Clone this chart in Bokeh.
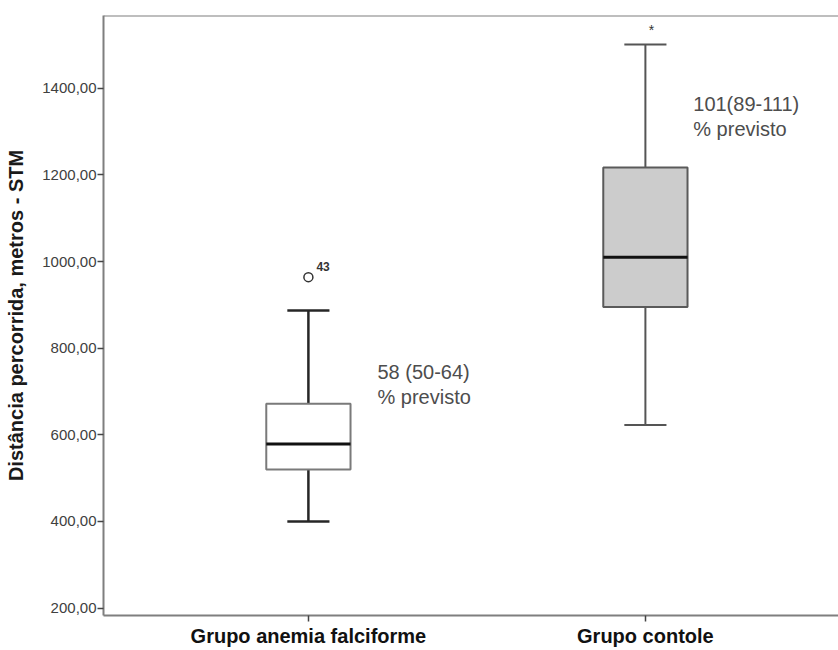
from bokeh.plotting import figure
from bokeh.models import Range1d, FixedTicker, Span, ColumnDataSource
from bokeh.core.properties import value
from bokeh.embed import file_html
from bokeh.resources import INLINE

# ---- data ----
groups = ["Grupo anemia falciforme", "Grupo contole"]
lower_whisker = [400, 623]
q1 = [520, 895]
median = [579, 1010]
q3 = [672, 1217]
upper_whisker = [887, 1501]
box_fill = ["#ffffff", "#cccccc"]

outlier_group = [1]          # 1-based group index
outlier_value = [964]
outlier_label = ["43"]

extreme_group = [2]
extreme_value = [1541]

note_line1 = ["58 (50-64)", "101(89-111)"]
note_line2 = ["% previsto", "% previsto"]
note_y = [746, 1363]         # vertical anchor of the annotations (data units)

y_ticks = [200, 400, 600, 800, 1000, 1200, 1400]
y_tick_labels = ["200,00", "400,00", "600,00", "800,00", "1000,00", "1200,00", "1400,00"]

y_label = "Distância percorrida, metros - STM"

# ---- layout constants ----
FONT = "Liberation Sans"
BOX_W = 0.25
CAP_W = 0.125
NOTE_DX = [0.205, 0.142]

xs = [i + 1 for i in range(len(groups))]

p = figure(width=838, height=650, output_backend="svg", toolbar_location=None,
           x_range=Range1d(0.392, 2.573), y_range=Range1d(183, 1568),
           min_border_left=103, min_border_right=0, min_border_top=15, min_border_bottom=35)
p.outline_line_color = None
p.background_fill_color = "white"
p.border_fill_color = "white"
p.xgrid.visible = False
p.ygrid.visible = False

src = ColumnDataSource(dict(
    x=xs, lw=lower_whisker, q1=q1, med=median, q3=q3, uw=upper_whisker, fill=box_fill,
    x0=[x - BOX_W / 2 for x in xs], x1=[x + BOX_W / 2 for x in xs],
    c0=[x - CAP_W / 2 for x in xs], c1=[x + CAP_W / 2 for x in xs],
    wcol=["#262626", "#555555"], wwid=[2.5, 2.0],
    bcol=["#7a7a7a", "#5a5a5a"],
))

# whiskers (stems)
p.segment(x0="x", x1="x", y0="q3", y1="uw", source=src, line_color="wcol", line_width="wwid")
p.segment(x0="x", x1="x", y0="q1", y1="lw", source=src, line_color="wcol", line_width="wwid")
# caps
p.segment(x0="c0", x1="c1", y0="uw", y1="uw", source=src, line_color="wcol", line_width="wwid")
p.segment(x0="c0", x1="c1", y0="lw", y1="lw", source=src, line_color="wcol", line_width="wwid")
# boxes
p.vbar(x="x", width=BOX_W, bottom="q1", top="q3", source=src, fill_color="fill",
       line_color="bcol", line_width=2)
# medians
p.segment(x0="x0", x1="x1", y0="med", y1="med", source=src, line_color="#111111", line_width=3)

# outlier
p.scatter(x=outlier_group, y=outlier_value, marker="circle", size=9, fill_color="white",
          line_color="#333333", line_width=1.5)
p.text(x=outlier_group, y=outlier_value, text=outlier_label, x_offset=8, y_offset=-11,
       text_font=value(FONT), text_font_size="12px", text_font_style="bold",
       text_color="#333333", text_align="left", text_baseline="middle")

# extreme value
p.text(x=extreme_group, y=extreme_value, text=["*"] * len(extreme_value), x_offset=6, y_offset=3,
       text_font=value(FONT), text_font_size="14px", text_color="#333333",
       text_align="center", text_baseline="middle")

# annotations
nx = [x + d for x, d in zip(xs, NOTE_DX)]
p.text(x=nx, y=note_y, text=note_line1, text_font=value(FONT), text_font_size="20px",
       text_color="#4d4d4d", text_align="left", text_baseline="middle")
p.text(x=nx, y=note_y, text=note_line2, y_offset=25, text_font=value(FONT), text_font_size="20px",
       text_color="#4d4d4d", text_align="left", text_baseline="middle")

# frame top line
p.add_layout(Span(location=1568, dimension="width", line_color="#7f7f7f", line_width=2))

# axes
FRAME = "#7f7f7f"
p.yaxis.ticker = FixedTicker(ticks=y_ticks)
p.yaxis.major_label_overrides = {t: l for t, l in zip(y_ticks, y_tick_labels)}
p.yaxis.axis_label = y_label
p.yaxis.axis_label_text_font = FONT
p.yaxis.axis_label_text_font_style = "bold"
p.yaxis.axis_label_text_font_size = "20px"
p.yaxis.axis_label_text_color = "#1a1a1a"
p.yaxis.axis_label_standoff = 12
p.yaxis.major_label_text_font = FONT
p.yaxis.major_label_text_font_size = "15px"
p.yaxis.major_label_text_color = "#404040"
p.yaxis.major_label_standoff = 1
p.yaxis.axis_line_color = FRAME
p.yaxis.axis_line_width = 2
p.yaxis.major_tick_line_color = "#444444"
p.yaxis.major_tick_line_width = 1.5
p.yaxis.major_tick_out = 6
p.yaxis.major_tick_in = 0
p.yaxis.minor_tick_line_color = None

p.xaxis.ticker = FixedTicker(ticks=xs)
p.xaxis.major_label_overrides = {x: g for x, g in zip(xs, groups)}
p.xaxis.major_label_text_font = FONT
p.xaxis.major_label_text_font_style = "bold"
p.xaxis.major_label_text_font_size = "20px"
p.xaxis.major_label_text_color = "#111111"
p.xaxis.major_label_standoff = 3
p.xaxis.axis_line_color = FRAME
p.xaxis.axis_line_width = 2
p.xaxis.major_tick_line_color = "#444444"
p.xaxis.major_tick_line_width = 1.5
p.xaxis.major_tick_out = 6
p.xaxis.major_tick_in = 0
p.xaxis.minor_tick_line_color = None

open("out.html", "w").write(file_html(p, INLINE))
